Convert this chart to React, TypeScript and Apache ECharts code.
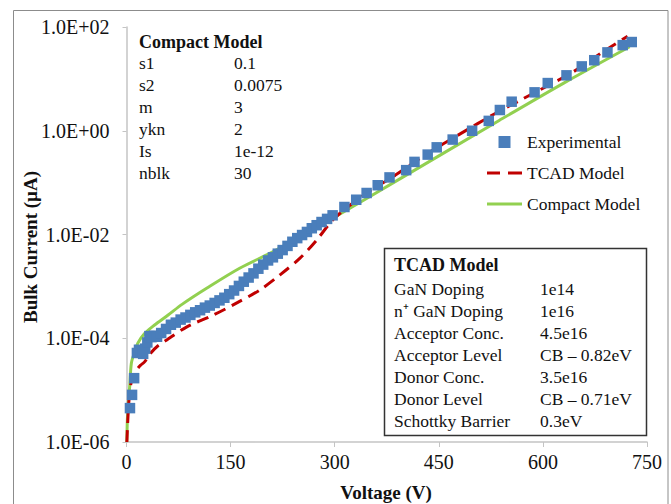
import React, { useEffect, useRef } from 'react';
import * as echarts from 'echarts';

// Experimental data: voltage (V) and bulk current (µA)
const expVoltage = [5, 8, 11, 15, 18, 21, 24, 27, 30, 33, 36, 40, 44,
  50, 57, 64, 71, 78, 85, 92, 99, 106, 113, 120, 127, 134, 141, 148, 155, 162, 169, 176, 183, 190, 197,
  204, 211, 218, 225, 232, 239, 246, 253, 260, 267, 274, 281, 289, 297,
  314, 331, 346, 362, 379, 403, 415, 434, 447, 470, 498, 522, 538, 555, 588, 607, 634, 656, 674, 693, 715, 728];
const expCurrent = [4.5e-6, 8.1e-6, 1.7e-5, 5.2e-5, 6.0e-5, 5.6e-5, 5.0e-5, 6.3e-5, 8.3e-5, 1.1e-4, 1.05e-4, 1.12e-4, 1.07e-4,
  1.26e-4, 1.51e-4, 1.82e-4, 2.0e-4, 2.29e-4, 2.51e-4, 2.82e-4, 3.16e-4, 3.47e-4, 3.89e-4, 4.27e-4, 4.79e-4, 5.37e-4, 6.03e-4, 7.08e-4, 8.32e-4, 1.02e-3, 1.23e-3, 1.48e-3, 1.78e-3, 2.19e-3, 2.63e-3,
  3.16e-3, 3.63e-3, 4.27e-3, 5.01e-3, 6.03e-3, 7.24e-3, 8.51e-3, 9.77e-3, 1.12e-2, 1.32e-2, 1.51e-2, 1.74e-2, 2.0e-2, 2.34e-2,
  3.39e-2, 4.68e-2, 6.31e-2, 8.91e-2, 0.126, 0.174, 0.251, 0.347, 0.479, 0.676, 1.0, 1.55, 2.51, 3.63, 5.5, 8.3, 11.7, 17.4, 22.9, 32.4, 44.7, 51.3];

// TCAD model curve
const tcadVoltage = [0.5, 3, 6, 10, 15, 20, 26, 35, 45, 58, 87, 125, 159, 192, 221, 250, 274, 297, 320, 350, 387, 430, 482, 530, 583, 643, 690, 722];
const tcadCurrent = [1.0e-6, 5.0e-6, 1.26e-5, 2.0e-5, 2.5e-5, 3.0e-5, 3.5e-5, 5.2e-5, 7.1e-5, 9.3e-5, 1.66e-4, 2.8e-4, 4.8e-4, 8.5e-4, 1.66e-3, 3.5e-3, 7.8e-3, 1.9e-2, 3.5e-2, 6.8e-2, 0.138, 0.34, 0.89, 2.1, 5.0, 13.5, 35.5, 66];

// Compact model curve
const compactVoltage = [0.5, 1.2, 2.5, 4.6, 7, 11.8, 16.5, 26, 40, 60, 80, 116, 163, 210, 250, 293, 400, 537, 630, 725];
const compactCurrent = [1.0e-6, 2.6e-6, 5.5e-6, 1.17e-5, 3.3e-5, 5.5e-5, 8.1e-5, 1.23e-4, 1.78e-4, 2.8e-4, 4.5e-4, 9.3e-4, 2.24e-3, 4.57e-3, 9.1e-3, 1.9e-2, 0.132, 1.58, 8.3, 41.7];

const seriesNames = ['Experimental', 'TCAD Model', 'Compact Model'];

const compactTitle = 'Compact Model';
const compactRows: [string, string][] = [
  ['s1', '0.1'], ['s2', '0.0075'], ['m', '3'], ['ykn', '2'], ['Is', '1e-12'], ['nblk', '30'],
];

const tcadTitle = 'TCAD Model';
const tcadRows: [string, string][] = [
  ['GaN Doping', '1e14'],
  ['n\u207A GaN Doping', '1e16'],
  ['Acceptor Conc.', '4.5e16'],
  ['Acceptor Level', 'CB \u2013 0.82eV'],
  ['Donor Conc.', '3.5e16'],
  ['Donor Level', 'CB \u2013 0.71eV'],
  ['Schottky Barrier', '0.3eV'],
];

const xTitle = 'Voltage (V)';
const yTitle = 'Bulk Current (\u00B5A)';

const FONT = 'Liberation Serif';

function zip(a: number[], b: number[]) {
  return a.map((v, i) => [v, b[i]]);
}

function fmtExp(v: number) {
  const e = Math.round(Math.log10(v));
  return '1.0E' + (e < 0 ? '-' : '+') + String(Math.abs(e)).padStart(2, '0');
}

function txt(x: number, y: number, text: string, size: number, bold = false, extra: any = {}) {
  return {
    type: 'text', x, y, ...extra,
    style: {
      text, fontFamily: FONT, fontSize: size, fontWeight: bold ? 'bold' : 'normal',
      fill: '#111', verticalAlign: 'middle', align: extra.align || 'left',
    },
  };
}

export default function App() {
  const ref = useRef<HTMLDivElement>(null);
  useEffect(() => {
    const chart = echarts.init(ref.current!, null, { renderer: 'svg' });
    const graphics: any[] = [
      {
        type: 'rect', z: -10, silent: true,
        shape: { x: 13.5, y: 10.5, width: 654.5, height: 510 },
        style: { fill: 'none', stroke: '#8c8c8c', lineWidth: 1 },
      },
      txt(139, 42, compactTitle, 18, true),
      {
        type: 'rect', z: 5,
        shape: { x: 384.5, y: 248.5, width: 262, height: 187 },
        style: { fill: '#fff', stroke: '#333', lineWidth: 1.5 },
      },
      txt(394, 265, tcadTitle, 18, true, { z: 6 }),
      txt(30, 247, yTitle, 19, true, { rotation: Math.PI / 2, align: 'center' }),
      txt(386, 492, xTitle, 19, true, { align: 'center' }),
    ];
    compactRows.forEach(([k, v], i) => {
      const y = 63 + i * 22;
      graphics.push(txt(139, y, k, 17.5));
      graphics.push(txt(234, y, v, 17.5));
    });
    tcadRows.forEach(([k, v], i) => {
      const y = 289 + i * 22;
      graphics.push(txt(394, y, k, 17.5, false, { z: 6 }));
      graphics.push(txt(540, y, v, 17.5, false, { z: 6 }));
    });

    chart.setOption({
      animation: false,
      backgroundColor: '#fff',
      textStyle: { fontFamily: FONT },
      grid: { left: 126.5, right: 24, top: 27, bottom: 62 },
      xAxis: {
        type: 'value', min: 0, max: 750, interval: 150,
        axisLine: { lineStyle: { color: '#c4c4c4', width: 1.5 } },
        axisTick: { show: true, length: 5, lineStyle: { color: '#c4c4c4' } },
        splitLine: { show: false },
        axisLabel: { color: '#111', fontFamily: FONT, fontSize: 20, margin: 10 },
      },
      yAxis: {
        type: 'log', logBase: 10, min: 1e-6, max: 1e2, interval: 2,
        axisLine: { show: true, lineStyle: { color: '#c4c4c4', width: 1.5 } },
        axisTick: { show: true, length: 4, lineStyle: { color: '#c4c4c4' } },
        minorTick: { show: false },
        splitLine: { show: false },
        axisLabel: { color: '#111', fontFamily: FONT, fontSize: 20, margin: 17, formatter: (v: number) => fmtExp(v) },
      },
      legend: {
        orient: 'vertical', left: 487, top: 133, padding: 0, itemWidth: 35, itemHeight: 12, itemGap: 13,
        symbolKeepAspect: true,
        data: [
          { name: seriesNames[0], icon: 'path://M0,0h10v10h-10z' },
          { name: seriesNames[1], icon: 'path://M0,0h13v3h-13zM21,0h14v3h-14z' },
          { name: seriesNames[2], icon: 'path://M0,0h35v3h-35z' },
        ],
        textStyle: { fontFamily: FONT, fontSize: 17.5, color: '#111' },
      },
      series: [
        {
          name: seriesNames[2], type: 'line', data: zip(compactVoltage, compactCurrent),
          showSymbol: false, symbol: 'none', smooth: 0.3, z: 2,
          lineStyle: { color: '#92D050', width: 3 }, itemStyle: { color: '#92D050' },
        },
        {
          name: seriesNames[1], type: 'line', data: zip(tcadVoltage, tcadCurrent),
          showSymbol: false, symbol: 'none', smooth: 0.3, z: 3,
          lineStyle: { color: '#C00000', width: 3, type: [12, 7] }, itemStyle: { color: '#C00000' },
        },
        {
          name: seriesNames[0], type: 'scatter', data: zip(expVoltage, expCurrent),
          symbol: 'rect', symbolSize: 10.5, z: 4,
          itemStyle: { color: '#4A7EBB', opacity: 1 },
        },
      ],
      graphic: graphics,
    });
    return () => chart.dispose();
  }, []);
  return <div ref={ref} style={{ position: 'fixed', left: 0, top: 0, width: 671, height: 504, background: '#fff' }} />;
}
